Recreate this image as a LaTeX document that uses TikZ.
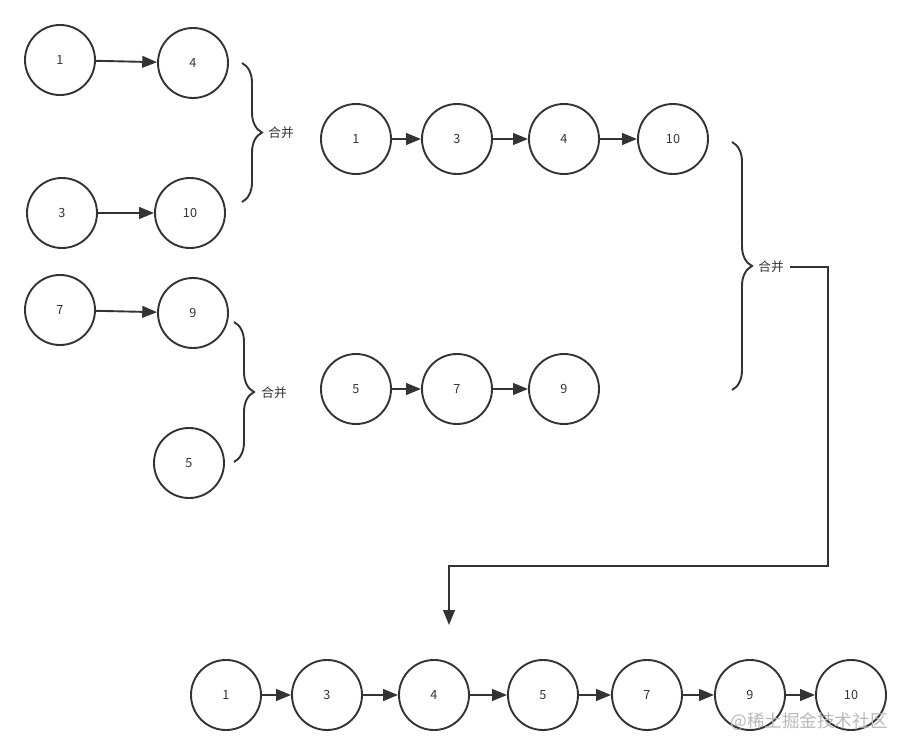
\documentclass[tikz,border=0pt]{standalone}
\usepackage{fontspec}
\setmainfont{Noto Sans CJK SC}
\usetikzlibrary{arrows.meta,decorations.pathreplacing}

\definecolor{ink}{HTML}{333333}
\tikzset{ball/.style={circle,draw=ink,line width=1.35pt,minimum size=1.75cm,inner sep=0pt,font=\fontsize{9}{11}\selectfont,text=ink},
         link/.style={draw=ink,line width=1.35pt,-{Triangle[length=0.37cm,width=0.29cm]}},
         merge/.style={draw=ink,line width=1.35pt,decorate,decoration={brace,amplitude=0.5cm}},
         tag/.style={font=\fontsize{9}{11}\selectfont,text=ink,inner sep=2pt}}

\begin{document}
\begin{tikzpicture}[x=0.025cm,y=-0.025cm]
                  \useasboundingbox (0,0) rectangle (910,754);
                  % left: four short lists
                  \node[ball] (a1) at (60,60) {1};
                  \node[ball] (a4) at (193,63) {4};
                  \node[ball] (b3) at (62,213) {3};
                  \node[ball] (b10) at (190,213) {10};
                  \node[ball] (c7) at (60,310) {7};
                  \node[ball] (c9) at (193,313) {9};
                  \node[ball] (d5) at (189,463) {5};
                  \draw[link] (a1) -- (a4);
                  \draw[link] (b3) -- (b10);
                  \draw[link] (c7) -- (c9);
                  \draw[merge] (242,63) -- (242,202);
                  \node[tag] (m1) at (281,133) {合并};
                  \draw[merge] (234,322) -- (234,462);
                  \node[tag] (m2) at (274,393) {合并};
                  % middle: merged pairs
                  \node[ball] (e1) at (356,139) {1};
                  \node[ball] (e3) at (457,139) {3};
                  \node[ball] (e4) at (564,139) {4};
                  \node[ball] (e10) at (673,139) {10};
                  \draw[link] (e1) -- (e3);
                  \draw[link] (e3) -- (e4);
                  \draw[link] (e4) -- (e10);
                  \node[ball] (f5) at (356,389) {5};
                  \node[ball] (f7) at (457,389) {7};
                  \node[ball] (f9) at (564,389) {9};
                  \draw[link] (f5) -- (f7);
                  \draw[link] (f7) -- (f9);
                  \draw[merge] (732,142) -- (732,390);
                  \node[tag] (m3) at (771,267) {合并};
                  % bottom: final list
                  \node[ball] (g1) at (226,695) {1};
                  \node[ball] (g3) at (327,695) {3};
                  \node[ball] (g4) at (434,695) {4};
                  \node[ball] (g5) at (543,695) {5};
                  \node[ball] (g7) at (647,695) {7};
                  \node[ball] (g9) at (750,695) {9};
                  \node[ball] (g10) at (851,695) {10};
                  \draw[link] (g1) -- (g3);
                  \draw[link] (g3) -- (g4);
                  \draw[link] (g4) -- (g5);
                  \draw[link] (g5) -- (g7);
                  \draw[link] (g7) -- (g9);
                  \draw[link] (g9) -- (g10);
                  \coordinate (turn) at (828,566);
                  \coordinate (drop) at (449,625);
                  \draw[link] ([xshift=2pt]m3.east) -| (turn) -| (drop);
                  \node[font=\fontsize{12.5}{14}\selectfont,text=gray!55] (mark) at (809,722) {@稀土掘金技术社区};
              \end{tikzpicture}
\end{document}
